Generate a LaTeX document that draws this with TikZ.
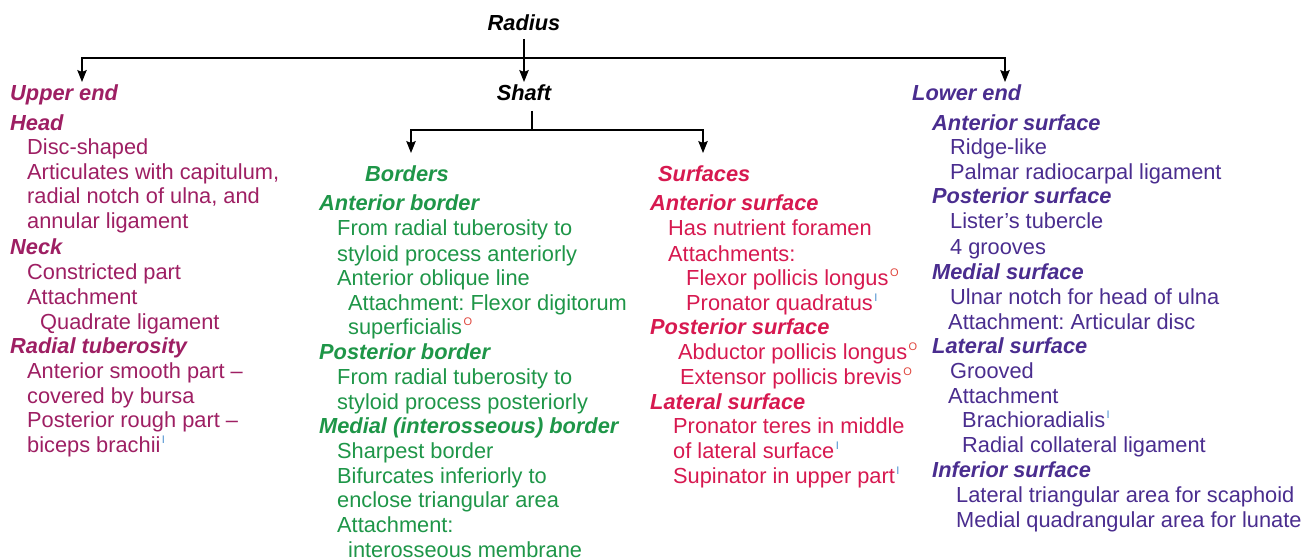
\documentclass[tikz,border=0pt]{standalone}
\usepackage{fontspec}
\setmainfont{Liberation Sans}
\usetikzlibrary{arrows.meta}
\frenchspacing
\definecolor{upc}{RGB}{158,31,99}
\definecolor{grc}{RGB}{30,150,72}
\definecolor{rdc}{RGB}{215,25,80}
\definecolor{puc}{RGB}{74,45,143}
\definecolor{ocol}{RGB}{224,69,60}
\definecolor{icol}{RGB}{74,144,208}
\newcommand\origmark{\hspace{1.5pt}\raisebox{8.5pt}{\fontsize{11}{11}\selectfont\color{ocol}O}}
\newcommand\insmark{\hspace{1.5pt}\raisebox{8.5pt}{\fontsize{11}{11}\selectfont\color{icol}I}}
\newcommand\txtl[5]{\node[#1] (#2) at (#3,#4+7) {#5};}
\begin{document}
\begin{tikzpicture}[x=1pt,y=-1pt,
  base/.style={anchor=base west,inner sep=0pt,font=\fontsize{21.8}{25}\selectfont},
  hd/.style={base,font=\fontsize{21.8}{25}\selectfont\bfseries\itshape},
  ue/.style={base,text=upc}, ueh/.style={hd,text=upc},
  bo/.style={base,text=grc}, boh/.style={hd,text=grc},
  su/.style={base,text=rdc}, suh/.style={hd,text=rdc},
  le/.style={base,text=puc}, leh/.style={hd,text=puc},
  arr/.style={draw=black,line width=1.1pt,-{Stealth[length=12pt,width=9.5pt,inset=2pt]}},
  ln/.style={draw=black,line width=1.1pt}]
\fill[white] (0,0) rectangle (1310,559);
\path[use as bounding box] (0,0) rectangle (1310,559);

% top level
\node[hd,anchor=base,text=black] (rad) at (524,31) {Radius};
\node[hd,anchor=base,text=black] (shaft) at (524,101) {Shaft};
\coordinate (radBot) at (524,39);
\coordinate (j0) at (524,58);
\coordinate (shTop) at (524,82);
\coordinate (ueTip) at (82,82);
\coordinate (leTip) at (1005,82);
\draw[ln] (radBot) -- (j0);
\draw[arr] (j0) -- (shTop);
\draw[arr] (j0) -| (ueTip);
\draw[arr] (j0) -| (leTip);
\coordinate (shBot) at (532,111);
\coordinate (j1) at (532,130);
\coordinate (boTip) at (411,153);
\coordinate (suTip) at (703,153);
\draw[ln] (shBot) -- (j1);
\draw[arr] (j1) -| (boTip);
\draw[arr] (j1) -| (suTip);

% Upper end
\txtl{ueh}{u1}{10}{94}{Upper end}
\txtl{ueh}{u2}{10}{124}{Head}
\txtl{ue}{u3}{27}{148}{Disc-shaped}
\txtl{ue}{u4}{27}{173}{Articulates with capitulum,}
\txtl{ue}{u5}{27}{197}{radial notch of ulna, and}
\txtl{ue}{u6}{27}{222}{annular ligament}
\txtl{ueh}{u7}{10}{247}{Neck}
\txtl{ue}{u8}{27}{272}{Constricted part}
\txtl{ue}{u9}{27}{297}{Attachment}
\txtl{ue}{u10}{40}{322}{Quadrate ligament}
\txtl{ueh}{u11}{10}{346}{Radial tuberosity}
\txtl{ue}{u12}{27}{371}{Anterior smooth part –}
\txtl{ue}{u13}{27}{396}{covered by bursa}
\txtl{ue}{u14}{27}{420}{Posterior rough part –}
\txtl{ue}{u15}{27}{445}{biceps brachii\insmark}

% Borders
\txtl{boh}{b1}{365}{175}{Borders}
\txtl{boh}{b2}{319}{204}{Anterior border}
\txtl{bo}{b3}{337}{229}{From radial tuberosity to}
\txtl{bo}{b4}{337}{254}{styloid process anteriorly}
\txtl{bo}{b5}{337}{278}{Anterior oblique line}
\txtl{bo}{b6}{348}{303}{Attachment: Flexor digitorum}
\txtl{bo}{b7}{348}{327}{superficialis\origmark}
\txtl{boh}{b8}{319}{352}{Posterior border}
\txtl{bo}{b9}{337}{377}{From radial tuberosity to}
\txtl{bo}{b10}{337}{402}{styloid process posteriorly}
\txtl{boh}{b11}{319}{426}{Medial (interosseous) border}
\txtl{bo}{b12}{337}{451}{Sharpest border}
\txtl{bo}{b13}{337}{476}{Bifurcates inferiorly to}
\txtl{bo}{b14}{337}{500}{enclose triangular area}
\txtl{bo}{b15}{337}{525}{Attachment:}
\txtl{bo}{b16}{348}{550}{interosseous membrane}

% Surfaces
\txtl{suh}{s1}{658}{175}{Surfaces}
\txtl{suh}{s2}{650}{204}{Anterior surface}
\txtl{su}{s3}{668}{229}{Has nutrient foramen}
\txtl{su}{s4}{668}{254}{Attachments:}
\txtl{su}{s5}{686}{278}{Flexor pollicis longus\origmark}
\txtl{su}{s6}{686}{303}{Pronator quadratus\insmark}
\txtl{suh}{s7}{650}{327}{Posterior surface}
\txtl{su}{s8}{678}{352}{Abductor pollicis longus\origmark}
\txtl{su}{s9}{680}{377}{Extensor pollicis brevis\origmark}
\txtl{suh}{s10}{650}{402}{Lateral surface}
\txtl{su}{s11}{673}{426}{Pronator teres in middle}
\txtl{su}{s12}{673}{451}{of lateral surface\insmark}
\txtl{su}{s13}{673}{476}{Supinator in upper part\insmark}

% Lower end
\txtl{leh}{l1}{912}{94}{Lower end}
\txtl{leh}{l2}{932}{124}{Anterior surface}
\txtl{le}{l3}{950}{148}{Ridge-like}
\txtl{le}{l4}{950}{173}{Palmar radiocarpal ligament}
\txtl{leh}{l5}{932}{197}{Posterior surface}
\txtl{le}{l6}{950}{222}{Lister’s tubercle}
\txtl{le}{l7}{950}{247}{4 grooves}
\txtl{leh}{l8}{932}{272}{Medial surface}
\txtl{le}{l9}{950}{297}{Ulnar notch for head of ulna}
\txtl{le}{l10}{948}{322}{Attachment: Articular disc}
\txtl{leh}{l11}{932}{346}{Lateral surface}
\txtl{le}{l12}{950}{371}{Grooved}
\txtl{le}{l13}{948}{396}{Attachment}
\txtl{le}{l14}{962}{420}{Brachioradialis\insmark}
\txtl{le}{l15}{962}{445}{Radial collateral ligament}
\txtl{leh}{l16}{932}{470}{Inferior surface}
\txtl{le}{l17}{956}{495}{Lateral triangular area for scaphoid}
\txtl{le}{l18}{956}{520}{Medial quadrangular area for lunate}
\end{tikzpicture}
\end{document}
